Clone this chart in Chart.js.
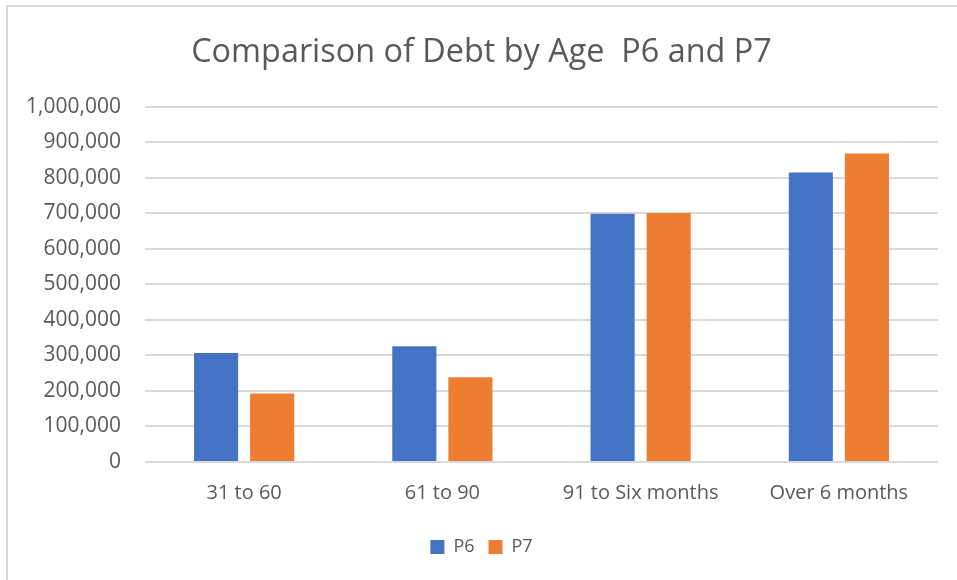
<!DOCTYPE html>
<html>
<head>
<meta charset="utf-8">
<script src="https://cdn.jsdelivr.net/npm/chart.js@4.4.0/dist/chart.umd.min.js"></script>
<style>
  html, body { margin: 0; padding: 0; background: #fff; }
  #wrap { position: relative; width: 957px; height: 580px; overflow: hidden; }
  #frame { position: absolute; left: 6px; top: 5px; width: 1000px; height: 700px; border: 2px solid #d9d9d9; box-sizing: border-box; }
  canvas { position: absolute; left: 0; top: 0; }
</style>
</head>
<body>
<div id="wrap">
  <div id="frame"></div>
  <canvas id="grafico" width="957" height="580"></canvas>
</div>
<script>
// categorias e valores
const categorias = ['31 to 60', '61 to 90', '91 to Six months', 'Over 6 months'];
const valoresP6 = [307000, 326000, 699000, 815000];
const valoresP7 = [193000, 239000, 701000, 869000];
const tituloGrafico = 'Comparison of Debt by Age  P6 and P7';

const corTexto = '#595959';
const fonte = "'Open Sans', 'Noto Sans', sans-serif";

new Chart(document.getElementById('grafico').getContext('2d'), {
  type: 'bar',
  data: {
    labels: categorias,
    datasets: [
      { label: 'P6', data: valoresP6, backgroundColor: '#4472c4', barPercentage: 0.786, categoryPercentage: 0.566 },
      { label: 'P7', data: valoresP7, backgroundColor: '#ed7d31', barPercentage: 0.786, categoryPercentage: 0.566 }
    ]
  },
  options: {
    responsive: false,
    animation: false,
    layout: { padding: { left: 25, right: 19, top: 33, bottom: 14 } },
    scales: {
      x: {
        grid: { display: false },
        border: { display: false },
        ticks: { color: corTexto, font: { family: fonte, size: 20 }, padding: 11 },
        afterFit: s => { s.height += 8; }
      },
      y: {
        min: 0,
        max: 1000000,
        grid: { color: '#d9d9d9', lineWidth: 2, drawTicks: false },
        border: { display: false },
        ticks: {
          stepSize: 100000,
          color: corTexto,
          font: { family: fonte, size: 21 },
          padding: 24,
          callback: v => v.toLocaleString('en-US')
        },
        afterFit: s => { s.width = 120; }
      }
    },
    plugins: {
      title: {
        display: true,
        text: tituloGrafico,
        color: corTexto,
        font: { family: fonte, size: 32.4, weight: 'normal' },
        padding: { top: 0, bottom: 35 }
      },
      legend: {
        position: 'bottom',
        labels: {
          color: corTexto,
          font: { family: fonte, size: 18 },
          boxWidth: 14,
          boxHeight: 14,
          padding: 14
        }
      },
      tooltip: { enabled: false }
    }
  }
});
</script>
</body>
</html>
